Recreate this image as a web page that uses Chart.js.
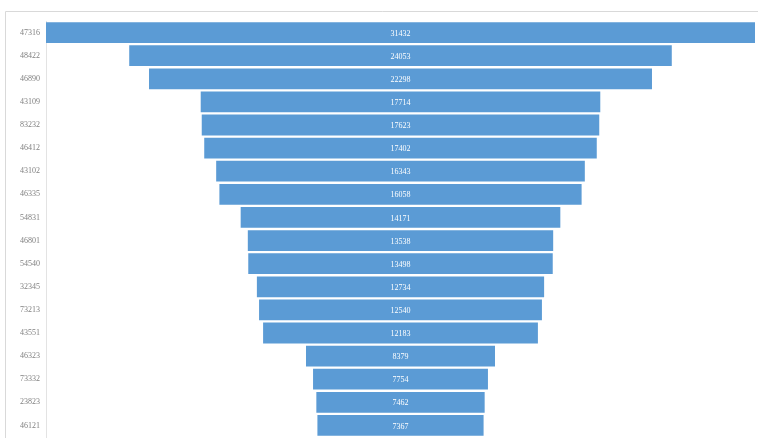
<!DOCTYPE html>
<html>
<head>
<meta charset="utf-8">
<script src="https://cdn.jsdelivr.net/npm/chart.js@4/dist/chart.umd.min.js"></script>
<style>
html,body{margin:0;padding:0;background:#fff;overflow:hidden;}
#wrap{width:758px;height:438px;position:relative;}
</style>
</head>
<body>
<div id="wrap"><canvas id="c" width="758" height="438"></canvas></div>
<script>
const categories = ["47316","48422","46890","43109","83232","46412","43102","46335","54831","46801","54540","32345","73213","43551","46323","73332","23823","46121"];
const values = [31432,24053,22298,17714,17623,17402,16343,16058,14171,13538,13498,12734,12540,12183,8379,7754,7462,7367];
const maxValue = Math.max(...values);

const floating = values.map(v => [-v/2, v/2]);

const frame = {
  id: 'frame',
  beforeDraw(chart){
    const ctx = chart.ctx;
    ctx.save();
    ctx.strokeStyle = '#d9d9d9';
    ctx.lineWidth = 1;
    ctx.beginPath();
    ctx.moveTo(5.5, 460);
    ctx.lineTo(5.5, 11.5);
    ctx.lineTo(770, 11.5);
    ctx.stroke();
    ctx.restore();
  }
};

const valueLabels = {
  id: 'valueLabels',
  afterDatasetsDraw(chart){
    const ctx = chart.ctx;
    const meta = chart.getDatasetMeta(0);
    ctx.save();
    ctx.fillStyle = '#ffffff';
    ctx.font = '8px "Liberation Serif", serif';
    ctx.textAlign = 'center';
    ctx.textBaseline = 'middle';
    meta.data.forEach((bar, i) => {
      const p = bar.getProps(['x','base','y'], true);
      ctx.fillText(String(values[i]), (p.x + p.base)/2, p.y + 1);
    });
    ctx.restore();
  }
};

new Chart(document.getElementById('c'), {
  type: 'bar',
  data: {
    labels: categories,
    datasets: [{
      data: floating,
      backgroundColor: '#5b9bd5',
      borderWidth: 0,
      barPercentage: 0.9,
      categoryPercentage: 1.0
    }]
  },
  options: {
    indexAxis: 'y',
    responsive: false,
    animation: false,
    layout: { padding: { top: 21, left: 0, right: 3, bottom: 1 } },
    plugins: { legend: { display: false }, tooltip: { enabled: false } },
    scales: {
      x: {
        display: false,
        min: -maxValue/2,
        max: maxValue/2
      },
      y: {
        grid: { display: false, drawTicks: false },
        border: { display: true, color: '#e3e3e3', width: 1 },
        ticks: {
          color: '#808080',
          font: { family: '"Liberation Serif", serif', size: 8 },
          padding: 6
        },
        afterFit(scale){
          scale.width = 46;
          scale.paddingTop = 0;
          scale.paddingBottom = 0;
        }
      }
    }
  },
  plugins: [frame, valueLabels]
});
</script>
</body>
</html>
